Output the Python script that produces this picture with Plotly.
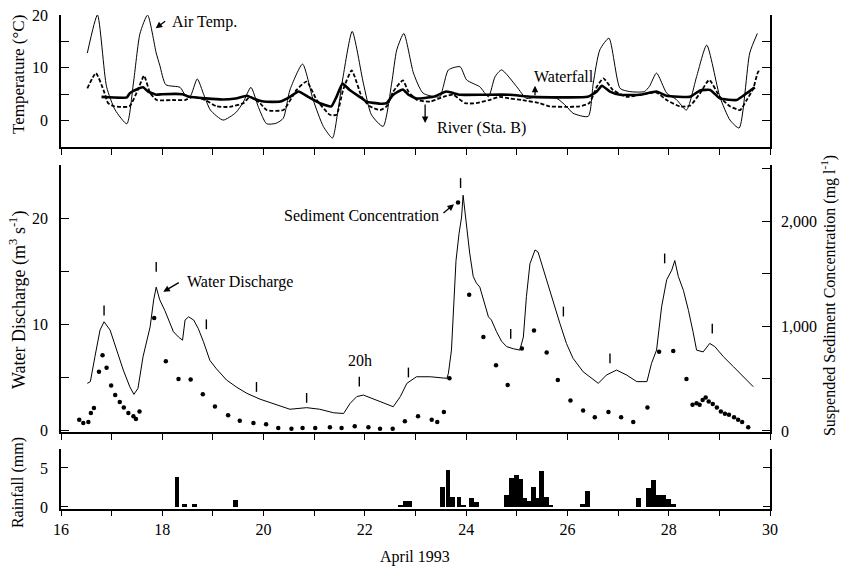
import plotly.graph_objects as go

# ---------------- data ----------------
air_day = [16.52,16.72,16.90,17.07,17.30,17.43,17.56,17.71,17.88,17.95,18.07,18.35,18.45,18.55,18.69,18.82,18.95,19.20,19.45,19.60,19.75,19.90,20.06,20.25,20.39,20.52,20.77,20.98,21.18,21.36,21.47,21.57,21.75,21.97,22.13,22.36,22.53,22.63,22.77,22.96,23.15,23.48,23.55,23.65,23.88,24.01,24.27,24.44,24.57,24.70,25.00,25.19,25.40,25.79,25.98,26.11,26.41,26.51,26.64,26.82,27.04,27.23,27.52,27.62,27.76,27.96,28.15,28.35,28.55,28.75,29.01,29.21,29.39,29.60,29.75]
air_temp = [12.8,20.0,6.4,2.0,-0.6,7.1,16.5,20.0,12.8,10.5,6.8,6.3,4.9,4.6,7.9,4.9,2.0,0.1,1.5,3.5,6.3,2.5,-0.6,-0.5,0.45,5.8,10.7,3.9,-1.1,-3.3,2.0,8.3,16.9,7.1,1.1,-1.1,7.1,13.4,16.5,9.0,5.2,4.5,6.5,9.6,10.2,7.7,6.4,4.5,8.3,9.6,6.4,4.2,4.5,4.2,2.7,1.4,0.8,7.1,13.4,15.6,6.1,5.5,5.5,6.5,9.0,5.2,4.0,2.0,8.3,14.3,4.5,0.1,-1.4,12.8,16.5]

river_day = [16.52,16.69,16.85,16.93,17.05,17.35,17.53,17.64,17.76,17.89,18.20,18.45,18.60,18.85,19.07,19.33,19.60,19.73,19.93,20.06,20.39,20.65,20.85,21.05,21.31,21.44,21.57,21.74,21.94,22.10,22.30,22.43,22.56,22.75,22.86,23.03,23.29,23.55,23.74,23.98,24.20,24.46,24.66,24.85,25.10,25.45,25.65,25.98,26.24,26.43,26.58,26.71,26.90,27.17,27.43,27.76,27.96,28.22,28.42,28.62,28.80,29.01,29.21,29.41,29.54,29.67,29.77,29.83]
river_temp = [6.1,9.0,5.5,3.3,2.7,2.7,6.1,8.5,5.2,3.9,3.9,3.9,4.5,3.9,2.7,2.6,3.3,4.5,3.3,2.0,2.0,5.8,7.4,3.9,1.1,1.1,5.8,9.5,4.5,2.7,2.0,2.7,5.5,7.6,5.5,3.9,3.6,4.5,4.9,3.3,3.3,3.9,4.5,4.2,3.9,3.3,2.7,2.6,2.7,3.3,6.4,8.0,5.8,4.5,4.9,5.3,3.9,2.7,2.8,5.2,7.7,4.5,2.7,2.0,3.9,6.1,9.3,9.3]

fall_day = [16.80,17.30,17.36,17.49,17.62,17.72,17.88,18.00,18.40,18.53,18.86,19.19,19.45,19.67,19.80,20.00,20.33,20.52,20.69,20.88,21.11,21.34,21.44,21.56,21.70,21.90,22.03,22.30,22.43,22.56,22.75,22.86,23.02,23.35,23.61,23.88,24.34,24.86,25.30,26.40,26.58,26.68,26.84,27.04,27.43,27.76,27.96,28.42,28.62,28.82,29.01,29.34,29.54,29.70]
fall_temp = [4.5,4.4,5.2,5.9,6.3,5.5,4.9,5.0,5.0,4.5,4.2,4.0,4.2,4.7,4.2,3.6,3.6,4.5,5.5,4.5,3.3,2.7,4.5,7.0,5.8,4.5,3.6,3.2,3.3,4.9,5.9,4.9,4.2,4.5,5.5,4.9,4.9,4.9,4.5,4.5,5.5,6.6,5.5,4.9,4.9,5.5,4.7,4.5,5.7,5.8,4.2,3.9,5.2,6.3]

q_day = [16.52,16.58,16.67,16.77,16.85,16.97,17.10,17.23,17.36,17.44,17.52,17.62,17.76,17.83,17.88,17.95,18.05,18.15,18.22,18.32,18.40,18.45,18.52,18.62,18.71,18.81,18.94,19.07,19.27,19.47,19.67,19.93,20.26,20.52,20.85,21.11,21.38,21.58,21.71,21.84,21.97,22.17,22.37,22.56,22.70,22.83,23.02,23.29,23.62,23.65,23.71,23.80,23.86,23.91,23.94,23.99,24.07,24.14,24.20,24.27,24.34,24.44,24.50,24.60,24.70,24.80,24.93,25.06,25.13,25.19,25.26,25.36,25.42,25.49,25.59,25.72,25.85,25.98,26.11,26.31,26.48,26.61,26.77,26.97,27.17,27.37,27.57,27.66,27.76,27.86,27.96,28.06,28.12,28.19,28.29,28.39,28.48,28.55,28.68,28.81,28.91,29.08,29.28,29.47,29.67]
q_flow = [4.44,4.6,6.95,9.45,10.24,9.45,7.57,5.69,4.1,3.4,3.97,6.95,9.76,12.3,13.5,12.3,11.3,10.1,9.3,8.8,8.5,10.4,10.7,10.4,9.6,8.4,6.6,5.8,4.75,4.07,3.5,2.95,2.4,2.0,2.15,2.0,1.67,1.6,2.56,3.19,3.34,2.95,2.56,2.24,3.19,4.44,5.06,5.06,4.91,5.38,7.57,16.0,18.55,20.1,22.15,20.1,16.7,14.5,13.9,13.5,12.3,10.7,10.4,9.3,8.4,7.9,7.7,7.57,8.8,12.6,15.7,17.0,16.8,15.7,14.2,12.0,10.1,8.2,6.8,5.53,4.91,4.44,5.22,5.69,5.22,4.6,4.6,6.32,7.57,11.65,14.2,15.1,16.0,14.5,13.2,11.3,9.3,7.57,7.4,8.2,7.9,6.95,6.0,5.06,4.12]

sed_day = [16.36,16.44,16.54,16.59,16.65,16.75,16.82,16.90,16.99,17.07,17.16,17.24,17.33,17.43,17.48,17.55,17.84,18.07,18.32,18.56,18.80,19.04,19.30,19.53,19.80,20.05,20.29,20.55,20.77,21.02,21.31,21.54,21.80,22.07,22.30,22.55,22.79,23.05,23.32,23.43,23.56,23.67,23.84,24.06,24.34,24.59,24.82,25.10,25.34,25.59,25.81,26.06,26.31,26.54,26.81,27.06,27.30,27.58,27.81,28.09,28.35,28.47,28.55,28.61,28.67,28.73,28.79,28.87,28.95,29.03,29.11,29.19,29.29,29.37,29.45,29.57]
sed_conc = [107,76,85,170,218,565,723,603,433,344,275,224,170,139,115,186,1077,666,495,492,350,234,149,98,76,63,28,22,28,28,35,28,44,35,22,22,92,139,107,85,180,502,2181,1300,897,628,438,786,959,748,486,291,196,130,180,130,85,224,755,764,495,249,265,249,296,319,281,256,224,186,164,155,130,107,85,35]

mark_day = [16.85,17.88,18.87,19.86,20.85,21.89,22.86,23.89,24.88,25.92,26.84,27.92,28.86]
mark_flow = [11.3,15.4,10.0,4.1,3.07,4.6,5.46,23.3,9.1,11.2,6.8,16.2,9.6]

rain_day = [18.29,18.44,18.64,19.44,22.70,22.80,22.88,23.53,23.64,23.73,23.86,23.94,24.10,24.20,24.80,24.90,24.99,25.08,25.16,25.24,25.33,25.41,25.49,25.58,25.66,26.30,26.40,27.40,27.60,27.70,27.80,27.90,28.00,28.10]
rain_mm = [3.9,0.4,0.4,0.9,0.3,0.75,0.75,2.6,4.7,1.3,1.3,0.3,1.2,0.7,1.6,3.7,4.1,3.6,1.2,0.8,2.6,1.1,4.6,1.3,0.3,0.4,2.1,1.1,2.4,3.5,1.5,1.5,1.0,0.4]

day_ticks = list(range(16, 31))
day_labels = [str(d) if d % 2 == 0 else "" for d in day_ticks]

# ---------------- figure ----------------
FONT = "Liberation Serif, Times New Roman, serif"
BLK = "black"

fig = go.Figure()

# top panel (temperature)
fig.add_trace(go.Scatter(x=air_day, y=air_temp, mode="lines",
                         line=dict(color=BLK, width=1, shape="spline", smoothing=0.6),
                         xaxis="x3", yaxis="y4", showlegend=False))
fig.add_trace(go.Scatter(x=river_day, y=river_temp, mode="lines",
                         line=dict(color=BLK, width=1.8, dash="4px,2px", shape="spline", smoothing=0.5),
                         xaxis="x3", yaxis="y4", showlegend=False))
fig.add_trace(go.Scatter(x=fall_day, y=fall_temp, mode="lines",
                         line=dict(color=BLK, width=2.6, shape="spline", smoothing=0.4),
                         xaxis="x3", yaxis="y4", showlegend=False))

# middle panel (discharge + sediment)
fig.add_trace(go.Scatter(x=q_day, y=q_flow, mode="lines", line=dict(color=BLK, width=1),
                         xaxis="x2", yaxis="y2", showlegend=False))
fig.add_trace(go.Scatter(x=mark_day, y=mark_flow, mode="markers",
                         marker=dict(symbol="line-ns", size=7, line=dict(color=BLK, width=1.4)),
                         xaxis="x2", yaxis="y2", showlegend=False))
fig.add_trace(go.Scatter(x=sed_day, y=sed_conc, mode="markers", marker=dict(color=BLK, size=4.5),
                         xaxis="x2", yaxis="y3", showlegend=False))

# bottom panel (rainfall)
fig.add_trace(go.Bar(x=rain_day, y=rain_mm, width=0.095, marker=dict(color=BLK, line=dict(width=0)),
                     xaxis="x", yaxis="y", showlegend=False))

axis_common = dict(showline=True, linecolor=BLK, linewidth=1.5, showgrid=False, zeroline=False,
                   automargin=False, tickcolor=BLK, tickwidth=1.2,
                   tickfont=dict(family=FONT, size=16, color=BLK))

fig.update_layout(
    width=842, height=569,
    margin=dict(l=61, r=72, t=15, b=60),
    paper_bgcolor="white", plot_bgcolor="white",
    font=dict(family=FONT, size=15, color=BLK),
    bargap=0,
    xaxis=dict(**axis_common, domain=[0, 1], range=[16, 30], anchor="y",
               tickmode="array", tickvals=day_ticks, ticktext=day_labels, ticks="outside", ticklen=5),
    xaxis2=dict(**axis_common, domain=[0, 1], range=[16, 30], anchor="y2",
                tickmode="array", tickvals=day_ticks, ticktext=[""] * len(day_ticks), ticks="outside", ticklen=6),
    xaxis3=dict(**axis_common, domain=[0, 1], range=[16, 30], anchor="y4",
                tickmode="array", tickvals=day_ticks, ticktext=[""] * len(day_ticks), ticks="outside", ticklen=6),
    yaxis=dict(**axis_common, domain=[0, 0.1215], range=[-0.26, 7.44], anchor="x",
               tickmode="array", tickvals=[0, 5], ticktext=["0", "5"], ticks="inside", ticklen=7,
               mirror="ticks", ticklabelstandoff=8),
    yaxis2=dict(**axis_common, domain=[0.1559, 0.6964], range=[-0.14, 25], anchor="x2",
                tickmode="array", tickvals=[0, 5, 10, 15, 20, 25], ticktext=["0", "", "10", "", "20", ""],
                ticks="inside", ticklen=8, ticklabelstandoff=8),
    yaxis3=dict(**axis_common, range=[-10, 2538], anchor="x2", overlaying="y2", side="right",
                tickmode="array", tickvals=[0, 500, 1000, 1500, 2000, 2500],
                ticktext=["0", "", "1,000", "", "2,000", ""], ticks="inside", ticklen=8, ticklabelstandoff=6),
    yaxis4=dict(**axis_common, domain=[0.7328, 1.0], range=[-5, 20], anchor="x3",
                tickmode="array", tickvals=[-5, 0, 5, 10, 15, 20], ticktext=["", "0", "", "10", "", "20"],
                ticks="inside", ticklen=8, mirror="ticks", ticklabelstandoff=8),
)

anns = []
def txt(x, y, s, xref, yref, xanchor="left", angle=0, size=16):
    anns.append(dict(x=x, y=y, xref=xref, yref=yref, text=s, showarrow=False, xanchor=xanchor,
                     yanchor="middle", textangle=angle, font=dict(family=FONT, size=size, color=BLK)))

def arrow(x, y, ax, ay, xref, yref):
    anns.append(dict(x=x, y=y, xref=xref, yref=yref, text="", showarrow=True, ax=ax, ay=ay,
                     arrowhead=2, arrowsize=1, arrowwidth=1.3, arrowcolor=BLK))

# top panel labels
txt(18.15, 18.7, "Air Temp.", "x3", "y4")
arrow(17.87, 17.5, 11, -8, "x3", "y4")
txt(25.30, 8.3, "Waterfall", "x3", "y4")
arrow(25.36, 6.6, 0, 11, "x3", "y4")
txt(23.385, -1.44, "River (Sta. B)", "x3", "y4")
arrow(23.19, -0.44, 0, -20, "x3", "y4")

# middle panel labels
txt(20.36, 20.27, "Sediment Concentration", "x2", "y2")
arrow(23.76, 21.3, -12, 10, "x2", "y2")
txt(18.45, 14.0, "Water Discharge", "x2", "y2")
arrow(18.02, 13.06, 17, -10, "x2", "y2")
txt(21.9, 6.57, "20h", "x2", "y2", xanchor="center")

# axis titles
txt(-0.0606, 0.8785, "Temperature (°C)", "paper", "paper", xanchor="center", angle=-90, size=17)
txt(-0.0606, 0.423, "Water Discharge (m<sup>3</sup> s<sup>-1</sup>)", "paper", "paper", xanchor="center", angle=-90, size=18)
txt(-0.0606, 0.0526, "Rainfall (mm)", "paper", "paper", xanchor="center", angle=-90, size=16)
txt(1.0818, 0.433, "Suspended Sediment Concentration (mg l<sup>-1</sup>)", "paper", "paper", xanchor="center", angle=-90, size=16)
txt(0.4993, -0.0972, "April 1993", "paper", "paper", xanchor="center", size=16)

fig.update_layout(annotations=anns)
fig.write_html("out.html", config={"displayModeBar": False},
               post_script="document.body.style.margin='0px';")
